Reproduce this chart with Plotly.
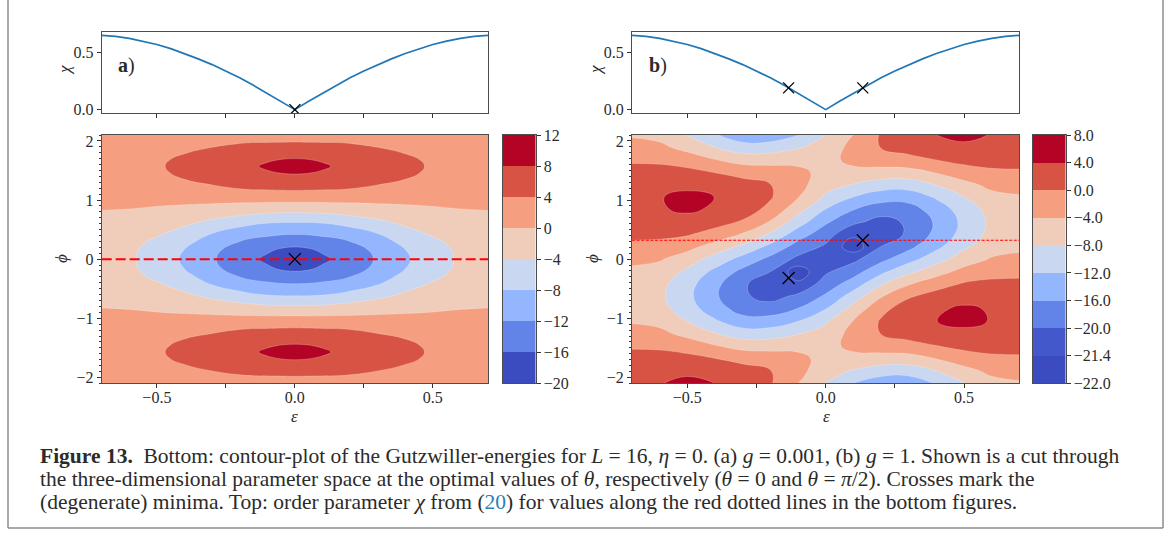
import numpy as np
import plotly.graph_objects as go

# ---------------- data ----------------
# panel (a): g = 0.001
eps_grid_a = [-0.7, -0.6, -0.5, -0.4, -0.3, -0.2, -0.15, -0.1, -0.05, 0.0,
              0.05, 0.1, 0.15, 0.2, 0.3, 0.4, 0.5, 0.6, 0.7]
phi_grid_a = [-2.1, -1.95, -1.8, -1.68, -1.571, -1.46, -1.35, -1.2, -1.05, -0.9, -0.75, -0.6, -0.45, -0.3, -0.15,
              0.0, 0.15, 0.3, 0.45, 0.6, 0.75, 0.9, 1.05, 1.2, 1.35, 1.46, 1.571, 1.68, 1.8, 1.95, 2.1]
energy_a = [
    [1.1, 1.15, 1.25, 1.2, 1.45, 1.55, 1.7, 1.7, 1.75, 1.8, 1.75, 1.7, 1.7, 1.55, 1.45, 1.2, 1.25, 1.15, 1.1],
    [1.8, 2.0, 2.4, 2.55, 3.35, 4.1, 4.4, 4.45, 4.5, 4.6, 4.5, 4.45, 4.4, 4.1, 3.35, 2.55, 2.4, 2.0, 1.8],
    [2.3, 2.65, 3.2, 3.9, 5.0, 5.85, 6.3, 6.35, 6.5, 6.6, 6.5, 6.35, 6.3, 5.85, 5.0, 3.9, 3.2, 2.65, 2.3],
    [2.5, 2.9, 3.6, 4.45, 5.7, 6.7, 7.2, 7.6, 8.1, 8.3, 8.1, 7.6, 7.2, 6.7, 5.7, 4.45, 3.6, 2.9, 2.5],
    [2.6, 3.0, 3.7, 4.7, 5.9, 7.1, 7.6, 8.6, 9.3, 9.5, 9.3, 8.6, 7.6, 7.1, 5.9, 4.7, 3.7, 3.0, 2.6],
    [2.5, 2.9, 3.6, 4.45, 5.7, 6.7, 7.2, 7.6, 8.1, 8.3, 8.1, 7.6, 7.2, 6.7, 5.7, 4.45, 3.6, 2.9, 2.5],
    [2.3, 2.65, 3.2, 4.0, 5.0, 5.9, 6.3, 6.3, 6.6, 6.7, 6.6, 6.3, 6.3, 5.9, 5.0, 4.0, 3.2, 2.65, 2.3],
    [1.85, 2.05, 2.4, 2.6, 3.4, 4.15, 4.45, 4.5, 4.6, 4.7, 4.6, 4.5, 4.45, 4.15, 3.4, 2.6, 2.4, 2.05, 1.85],
    [1.15, 1.2, 1.3, 1.25, 1.5, 1.7, 1.8, 1.85, 1.9, 1.95, 1.9, 1.85, 1.8, 1.7, 1.5, 1.25, 1.3, 1.2, 1.15],
    [0.35, 0.3, 0.05, -0.2, -0.5, -0.9, -1.05, -1.2, -1.3, -1.3, -1.3, -1.2, -1.05, -0.9, -0.5, -0.2, 0.05, 0.3, 0.35],
    [-0.35, -0.6, -1.1, -1.8, -2.75, -3.7, -4.2, -4.6, -4.8, -4.9, -4.8, -4.6, -4.2, -3.7, -2.75, -1.8, -1.1, -0.6, -0.35],
    [-0.95, -1.55, -2.2, -3.5, -5.15, -7.0, -7.7, -8.2, -8.5, -8.5, -8.5, -8.2, -7.7, -7.0, -5.15, -3.5, -2.2, -1.55, -0.95],
    [-1.5, -2.35, -3.4, -5.1, -7.8, -9.6, -10.4, -11.0, -11.3, -11.4, -11.3, -11.0, -10.4, -9.6, -7.8, -5.1, -3.4, -2.35, -1.5],
    [-2.0, -2.95, -4.6, -6.7, -9.9, -12.0, -13.0, -13.3, -13.9, -14.1, -13.9, -13.3, -13.0, -12.0, -9.9, -6.7, -4.6, -2.95, -2.0],
    [-2.3, -3.3, -5.5, -8.1, -11.2, -13.6, -14.7, -15.4, -16.6, -17.1, -16.6, -15.4, -14.7, -13.6, -11.2, -8.1, -5.5, -3.3, -2.3],
    [-2.4, -3.4, -5.8, -8.5, -11.6, -14.1, -15.3, -16.9, -18.3, -18.8, -18.3, -16.9, -15.3, -14.1, -11.6, -8.5, -5.8, -3.4, -2.4],
    [-2.3, -3.3, -5.5, -8.1, -11.2, -13.6, -14.7, -15.4, -16.6, -17.1, -16.6, -15.4, -14.7, -13.6, -11.2, -8.1, -5.5, -3.3, -2.3],
    [-2.0, -2.95, -4.6, -6.7, -9.9, -12.0, -13.0, -13.3, -13.9, -14.1, -13.9, -13.3, -13.0, -12.0, -9.9, -6.7, -4.6, -2.95, -2.0],
    [-1.5, -2.35, -3.4, -5.1, -7.8, -9.6, -10.4, -11.0, -11.3, -11.4, -11.3, -11.0, -10.4, -9.6, -7.8, -5.1, -3.4, -2.35, -1.5],
    [-0.95, -1.55, -2.2, -3.5, -5.15, -7.0, -7.7, -8.2, -8.5, -8.5, -8.5, -8.2, -7.7, -7.0, -5.15, -3.5, -2.2, -1.55, -0.95],
    [-0.35, -0.6, -1.1, -1.8, -2.75, -3.7, -4.2, -4.6, -4.8, -4.9, -4.8, -4.6, -4.2, -3.7, -2.75, -1.8, -1.1, -0.6, -0.35],
    [0.35, 0.3, 0.05, -0.2, -0.5, -0.9, -1.05, -1.2, -1.3, -1.3, -1.3, -1.2, -1.05, -0.9, -0.5, -0.2, 0.05, 0.3, 0.35],
    [1.15, 1.2, 1.3, 1.25, 1.5, 1.7, 1.8, 1.85, 1.9, 1.95, 1.9, 1.85, 1.8, 1.7, 1.5, 1.25, 1.3, 1.2, 1.15],
    [1.85, 2.05, 2.4, 2.6, 3.4, 4.15, 4.45, 4.5, 4.6, 4.7, 4.6, 4.5, 4.45, 4.15, 3.4, 2.6, 2.4, 2.05, 1.85],
    [2.3, 2.65, 3.2, 4.0, 5.0, 5.9, 6.3, 6.3, 6.6, 6.7, 6.6, 6.3, 6.3, 5.9, 5.0, 4.0, 3.2, 2.65, 2.3],
    [2.5, 2.9, 3.6, 4.45, 5.7, 6.7, 7.2, 7.6, 8.1, 8.3, 8.1, 7.6, 7.2, 6.7, 5.7, 4.45, 3.6, 2.9, 2.5],
    [2.6, 3.0, 3.7, 4.7, 5.9, 7.1, 7.6, 8.6, 9.3, 9.5, 9.3, 8.6, 7.6, 7.1, 5.9, 4.7, 3.7, 3.0, 2.6],
    [2.5, 2.9, 3.6, 4.45, 5.7, 6.7, 7.2, 7.6, 8.1, 8.3, 8.1, 7.6, 7.2, 6.7, 5.7, 4.45, 3.6, 2.9, 2.5],
    [2.3, 2.65, 3.2, 3.9, 5.0, 5.85, 6.3, 6.35, 6.5, 6.6, 6.5, 6.35, 6.3, 5.85, 5.0, 3.9, 3.2, 2.65, 2.3],
    [1.8, 2.0, 2.4, 2.55, 3.35, 4.1, 4.4, 4.45, 4.5, 4.6, 4.5, 4.45, 4.4, 4.1, 3.35, 2.55, 2.4, 2.0, 1.8],
    [1.1, 1.15, 1.25, 1.2, 1.45, 1.55, 1.7, 1.7, 1.75, 1.8, 1.75, 1.7, 1.7, 1.55, 1.45, 1.2, 1.25, 1.15, 1.1],
]

# panel (b): g = 1
eps_grid_b = [-0.7, -0.6, -0.5, -0.4, -0.3, -0.2, -0.1, 0.0, 0.1, 0.2, 0.3, 0.4, 0.5, 0.6, 0.7]
phi_grid_b = [-2.1, -1.89, -1.68, -1.47, -1.26, -1.05, -0.84, -0.63, -0.42, -0.21, 0.0,
              0.21, 0.42, 0.63, 0.84, 1.05, 1.26, 1.47, 1.68, 1.89, 2.1]
energy_b = [
    [3.55, 3.89, 4.62, 4.0, 2.79, 0.37, -3.95, -8.2, -12.17, -14.45, -14.53, -11.62, -8.13, -5.16, -4.41],
    [2.85, 3.09, 3.49, 2.75, 1.63, 0.13, -2.67, -6.57, -8.29, -9.99, -10.21, -7.94, -5.22, -3.1, -2.59],
    [1.42, 1.47, 1.21, 0.03, -1.26, -1.93, -3.01, -5.19, -5.08, -5.61, -5.57, -3.86, -1.96, -0.78, -0.56],
    [-0.48, -0.69, -1.83, -3.7, -5.38, -5.46, -4.97, -5.16, -3.07, -2.03, -1.4, -0.11, 1.1, 1.39, 1.35],
    [-2.52, -3.01, -5.1, -7.77, -10.02, -9.82, -8.15, -6.5, -2.65, 0.08, 1.54, 2.66, 3.42, 3.04, 2.8],
    [-4.35, -5.09, -8.03, -11.49, -14.38, -14.28, -12.01, -8.6, -3.87, 0.39, 2.78, 3.98, 4.6, 3.88, 3.54],
    [-5.65, -6.57, -10.11, -14.21, -17.68, -18.06, -15.88, -12.07, -6.51, -1.17, 2.08, 3.63, 4.43, 3.76, 3.43],
    [-6.19, -7.19, -10.99, -15.45, -19.36, -20.5, -19.11, -15.39, -10.13, -4.32, -0.44, 1.61, 2.94, 2.7, 2.5],
    [-5.89, -6.84, -10.5, -15.0, -19.13, -21.18, -21.12, -18.25, -14.09, -8.53, -4.33, -1.66, 0.39, 0.89, 0.91],
    [-4.78, -5.59, -8.73, -12.94, -17.02, -19.97, -21.75, -20.21, -17.7, -13.04, -8.92, -5.63, -2.76, -1.35, -1.06],
    [-3.08, -3.65, -5.99, -9.61, -13.41, -17.09, -20.34, -20.9, -20.34, -17.09, -13.41, -9.61, -5.99, -3.65, -3.08],
    [-1.06, -1.35, -2.76, -5.63, -8.92, -13.04, -17.7, -20.21, -21.75, -19.97, -17.02, -12.94, -8.73, -5.59, -4.78],
    [0.91, 0.89, 0.39, -1.66, -4.33, -8.53, -14.09, -18.25, -21.12, -21.18, -19.13, -15.0, -10.5, -6.84, -5.89],
    [2.5, 2.7, 2.94, 1.61, -0.44, -4.32, -10.13, -15.39, -19.11, -20.5, -19.36, -15.45, -10.99, -7.19, -6.19],
    [3.43, 3.76, 4.43, 3.63, 2.08, -1.17, -6.51, -12.07, -15.88, -18.06, -17.68, -14.21, -10.11, -6.57, -5.65],
    [3.54, 3.88, 4.6, 3.98, 2.78, 0.39, -3.87, -8.6, -12.01, -14.28, -14.38, -11.49, -8.03, -5.09, -4.35],
    [2.8, 3.04, 3.42, 2.66, 1.54, 0.08, -2.65, -6.5, -8.15, -9.82, -10.02, -7.77, -5.1, -3.01, -2.52],
    [1.35, 1.39, 1.1, -0.11, -1.4, -2.03, -3.07, -5.16, -4.97, -5.46, -5.38, -3.7, -1.83, -0.69, -0.48],
    [-0.56, -0.78, -1.96, -3.86, -5.57, -5.61, -5.08, -5.19, -3.01, -1.93, -1.26, 0.03, 1.21, 1.47, 1.42],
    [-2.59, -3.1, -5.22, -7.94, -10.21, -9.99, -8.29, -6.57, -2.67, 0.13, 1.63, 2.75, 3.49, 3.09, 2.85],
    [-4.41, -5.16, -8.13, -11.62, -14.53, -14.45, -12.17, -8.2, -3.95, 0.37, 2.79, 4.0, 4.62, 3.89, 3.55],
]

levels_a = [-20, -16, -12, -8, -4, 0, 4, 8, 12]
levels_b = [-22.0, -21.4, -20.0, -16.0, -12.0, -8.0, -4.0, 0.0, 4.0, 8.0]
cbar_labels_a = ["\u221220", "\u221216", "\u221212", "\u22128", "\u22124", "0", "4", "8", "12"]
cbar_labels_b = ["\u221222.0", "\u221221.4", "\u221220.0", "\u221216.0", "\u221212.0",
                 "\u22128.0", "\u22124.0", "0.0", "4.0", "8.0"]
colors_a = ["#3b4cc0", "#6283e8", "#94b6fe", "#c9d7f0", "#f0cdbb", "#f59f80", "#d75445", "#b40426"]
colors_b = ["#3b4cc0", "#4358cb", "#6283e8", "#94b6fe", "#c9d7f0", "#f0cdbb", "#f59f80", "#d75445", "#b40426"]

# order parameter chi along the red cut lines
chi_eps = [-0.7, -0.65, -0.6, -0.55, -0.5, -0.45, -0.4, -0.35, -0.3, -0.25, -0.2, -0.15, -0.1, -0.05,
           0.0, 0.05, 0.1, 0.15, 0.2, 0.25, 0.3, 0.35, 0.4, 0.45, 0.5, 0.55, 0.6, 0.65, 0.7]
chi_vals = [0.648, 0.639, 0.622, 0.598, 0.568, 0.532, 0.49, 0.443, 0.393, 0.338, 0.278, 0.212, 0.143, 0.073,
            0.0, 0.073, 0.143, 0.212, 0.278, 0.338, 0.393, 0.443, 0.49, 0.532, 0.568, 0.598, 0.622, 0.639, 0.648]

cut_phi_a = 0.0
cut_phi_b = 0.32
min_eps_a, min_phi_a, min_chi_a = [0.0], [0.0], [0.0]
min_eps_b, min_phi_b, min_chi_b = [-0.134, 0.134], [-0.32, 0.32], [0.19, 0.19]

# ---------------- layout helpers ----------------
W, H = 1174, 536
def fx(px):
    return px / W
def fy(py):
    return 1 - py / H

SERIF = "Liberation Serif"
TXT = "#2b2b2b"
XA = [fx(101.7), fx(488.0)]
XB = [fx(632.0), fx(1019.4)]
Y_TOP = [fy(113.3), fy(31.7)]
Y_BOT = [fy(383.3), fy(135.0)]
CBA = [fx(503.0), fx(535.5)]
CBB = [fx(1033.0), fx(1065.5)]

def ax(**kw):
    d = dict(showgrid=False, zeroline=False, showline=True, mirror=True, automargin=False,
             linecolor="#4d4d4d", linewidth=1, ticks="outside", ticklen=4,
             tickwidth=1, tickcolor="#333", tickfont=dict(family=SERIF, size=16, color=TXT))
    d.update(kw)
    return d

fig = go.Figure()

def idx(z, levels):
    return np.interp(np.array(z, dtype=float), levels, np.arange(len(levels)))

panels = [
    dict(x="x", y="y", xc="x2", yc="y2", eps=eps_grid_a, phi=phi_grid_a, z=energy_a, lev=levels_a, col=colors_a,
         cut=cut_phi_a, me=min_eps_a, mp=min_phi_a, mc=min_chi_a, dash="10px,4px", lw=2.0),
    dict(x="x3", y="y3", xc="x4", yc="y4", eps=eps_grid_b, phi=phi_grid_b, z=energy_b, lev=levels_b, col=colors_b,
         cut=cut_phi_b, me=min_eps_b, mp=min_phi_b, mc=min_chi_b, dash="3px,1.6px", lw=1.2),
]

for p in panels:
    fig.add_trace(go.Scatter(x=chi_eps, y=chi_vals, mode="lines", line=dict(color="#1f77b4", width=1.7),
                             xaxis=p["x"], yaxis=p["y"], showlegend=False, hoverinfo="skip"))
    fig.add_trace(go.Scatter(x=p["me"], y=p["mc"], mode="markers",
                             marker=dict(symbol="x-thin", size=11, line=dict(width=1.3, color="black")),
                             xaxis=p["x"], yaxis=p["y"], showlegend=False, hoverinfo="skip"))
    n = len(p["col"])
    fig.add_trace(go.Contour(x=p["eps"], y=p["phi"], z=idx(p["z"], p["lev"]),
                             xaxis=p["xc"], yaxis=p["yc"], autocontour=False,
                             contours=dict(start=1, end=len(p["lev"]) - 2, size=1, coloring="fill", showlines=True),
                             colorscale=[[k / (n - 1), c] for k, c in enumerate(p["col"])],
                             line=dict(width=0.5, color="rgba(255,255,255,0.45)", smoothing=1.3),
                             showscale=False, hoverinfo="skip"))
    fig.add_trace(go.Scatter(x=[p["eps"][0], p["eps"][-1]], y=[p["cut"], p["cut"]], mode="lines",
                             line=dict(color="#ff0000", width=p["lw"], dash=p["dash"]),
                             xaxis=p["xc"], yaxis=p["yc"], showlegend=False, hoverinfo="skip"))
    fig.add_trace(go.Scatter(x=p["me"], y=p["mp"], mode="markers",
                             marker=dict(symbol="x-thin", size=12, line=dict(width=1.3, color="black")),
                             xaxis=p["xc"], yaxis=p["yc"], showlegend=False, hoverinfo="skip"))

# colorbars drawn as stacked bars with uniform band heights
for cols, xa, ya in [(colors_a, "x5", "y5"), (colors_b, "x6", "y6")]:
    fig.add_trace(go.Bar(x=[0] * len(cols), y=[1] * len(cols), base=list(range(len(cols))), width=1,
                         marker=dict(color=cols, line=dict(width=0)), xaxis=xa, yaxis=ya,
                         showlegend=False, hoverinfo="skip"))

xt = [-0.5, -0.25, 0.0, 0.25, 0.5]
xtt = ["\u22120.5", "", "0.0", "", "0.5"]
ytv = [-2, -1, 0, 1, 2]
ytt = ["\u22122", "\u22121", "0", "1", "2"]
minor_phi = dict(tickmode="linear", tick0=0, dtick=0.1, ticks="outside", ticklen=2, tickwidth=0.8, tickcolor="#333")

fig.update_layout(
    width=W, height=H, margin=dict(l=0, r=0, t=0, b=0, pad=0), autosize=False,
    paper_bgcolor="white", plot_bgcolor="white", showlegend=False, bargap=0,
    xaxis=ax(domain=XA, anchor="y", range=[-0.7, 0.7], tickvals=xt, showticklabels=False),
    yaxis=ax(domain=Y_TOP, anchor="x", range=[-0.032, 0.68], tickvals=[0, 0.5], ticktext=["0.0", "0.5"]),
    xaxis2=ax(domain=XA, anchor="y2", range=[-0.7, 0.7], tickvals=xt, ticktext=xtt, ticklabelstandoff=-5),
    yaxis2=ax(domain=Y_BOT, anchor="x2", range=[-2.1, 2.1], tickvals=ytv, ticktext=ytt, minor=minor_phi),
    xaxis3=ax(domain=XB, anchor="y3", range=[-0.7, 0.7], tickvals=xt, showticklabels=False),
    yaxis3=ax(domain=Y_TOP, anchor="x3", range=[-0.032, 0.68], tickvals=[0, 0.5], ticktext=["0.0", "0.5"]),
    xaxis4=ax(domain=XB, anchor="y4", range=[-0.7, 0.7], tickvals=xt, ticktext=xtt, ticklabelstandoff=-5),
    yaxis4=ax(domain=Y_BOT, anchor="x4", range=[-2.1, 2.1], tickvals=ytv, ticktext=ytt, minor=minor_phi),
    xaxis5=ax(domain=CBA, anchor="y5", range=[-0.5, 0.5], ticks="", showticklabels=False),
    yaxis5=ax(domain=Y_BOT, anchor="x5", side="right", range=[0, len(colors_a)],
              tickvals=list(range(len(levels_a))), ticktext=cbar_labels_a),
    xaxis6=ax(domain=CBB, anchor="y6", range=[-0.5, 0.5], ticks="", showticklabels=False),
    yaxis6=ax(domain=Y_BOT, anchor="x6", side="right", range=[0, len(colors_b)],
              tickvals=list(range(len(levels_b))), ticktext=cbar_labels_b),
)

ann = []
def A(text, px, py, size=17, angle=0, xanchor="center"):
    ann.append(dict(text=text, x=fx(px), y=fy(py), xref="paper", yref="paper", showarrow=False,
                    xanchor=xanchor, yanchor="middle", textangle=angle,
                    font=dict(family=SERIF, size=size, color=TXT)))

A("<b>a</b>)", 116, 66, size=20, xanchor="left")
A("<b>b</b>)", 647, 66, size=20, xanchor="left")
for xo in (0, 531):
    A("<i>\u03c7</i>", 64 + xo, 70, angle=-90)
    A("<i>\u03d5</i>", 62 + xo, 259, angle=-90)
    A("<i>\u03b5</i>", 295 + xo, 416)

cap = [
    "<b>Figure 13.</b>\u00a0\u00a0Bottom: contour-plot of the Gutzwiller-energies for <i>L</i> = 16, <i>\u03b7</i> = 0. "
    "(a) <i>g</i> = 0.001, (b) <i>g</i> = 1. Shown is a cut through",
    "the three-dimensional parameter space at the optimal values of <i>\u03b8</i>, respectively "
    "(<i>\u03b8</i> = 0 and <i>\u03b8</i> = <i>\u03c0</i>/2). Crosses mark the",
    "(degenerate) minima. Top: order parameter <i>\u03c7</i> from (<span style='color:#2c7fb8'>20</span>) "
    "for values along the red dotted lines in the bottom figures.",
]
for i, t in enumerate(cap):
    A(t, 38, 456 + 23 * i, size=21.5, xanchor="left")

fig.update_layout(annotations=ann)

frame = dict(type="line", xref="paper", yref="paper", line=dict(color="#8c8c8c", width=1.5))
fig.update_layout(shapes=[
    dict(frame, x0=fx(8), x1=fx(8), y0=fy(0), y1=fy(528)),
    dict(frame, x0=fx(1163), x1=fx(1163), y0=fy(0), y1=fy(528)),
    dict(frame, x0=fx(8), x1=fx(1163), y0=fy(528), y1=fy(528)),
])

fig.write_html("out.html", config={"displayModeBar": False},
               post_script="document.body.style.margin='0';document.body.style.overflow='hidden';")
